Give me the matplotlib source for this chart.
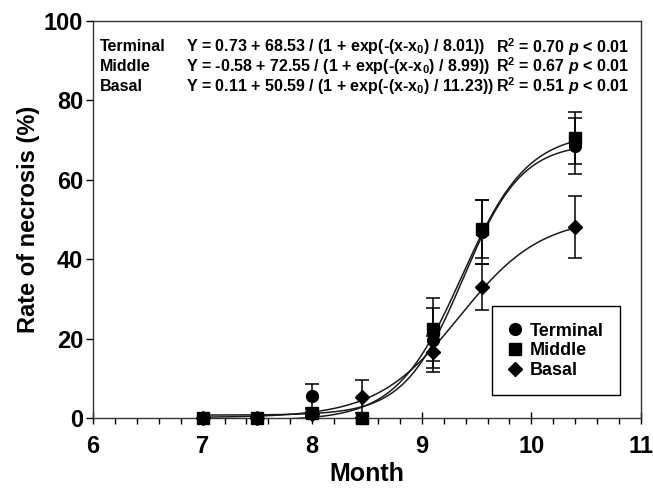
import numpy as np
import matplotlib
matplotlib.use("Agg")
import matplotlib.pyplot as plt
from matplotlib.ticker import MultipleLocator

plt.rcParams['font.family'] = ['Liberation Sans', 'DejaVu Sans']
plt.rcParams['font.weight'] = 'bold'
plt.rcParams['mathtext.fontset'] = 'custom'
plt.rcParams['mathtext.rm'] = 'Liberation Sans:bold'
plt.rcParams['mathtext.it'] = 'Liberation Sans:italic:bold'
plt.rcParams['mathtext.bf'] = 'Liberation Sans:bold'

# sampling months
months = [7.0, 7.5, 8.0, 8.45, 9.1, 9.55, 10.4]

# necrosis rate (%) and error per position
terminal = [0, 0, 5.5, 0, 19.6, 46.8, 68.5]
terminal_err = [0, 0, 3.0, 0, 8.0, 8.0, 7.0]
middle = [0, 0, 1.3, 0, 22.3, 47.6, 70.5]
middle_err = [0, 0, 1.0, 0, 8.0, 7.2, 6.5]
basal = [0, 0, 1.0, 5.4, 16.7, 33.0, 48.2]
basal_err = [0, 0, 0.5, 4.2, 4.0, 5.9, 7.8]

# logistic fits Y = a + b / (1 + exp(-(x-x0)/c)), c in days, x0 in months (estimated)
fit_a = [0.73, -0.58, 0.11]
fit_b = [68.53, 72.55, 50.59]
fit_c = [8.01, 8.99, 11.23]
fit_x0 = [9.375, 9.366, 9.34]

labels = ['Terminal', 'Middle', 'Basal']
markers = ['o', 's', 'D']
msizes = [8.5, 8, 7]
eq_texts = [
    r'Y = 0.73 + 68.53 / (1 + exp(-(x-x$_0$) / 8.01))',
    r'Y = -0.58 + 72.55 / (1 + exp(-(x-x$_0$) / 8.99))',
    r'Y = 0.11 + 50.59 / (1 + exp(-(x-x$_0$) / 11.23))',
]
r2_texts = [
    r'R$^2$ = 0.70 $\mathit{p}$ < 0.01',
    r'R$^2$ = 0.67 $\mathit{p}$ < 0.01',
    r'R$^2$ = 0.51 $\mathit{p}$ < 0.01',
]

fig = plt.figure(figsize=(6.53, 4.91), dpi=100)
ax = fig.add_axes([0.1424, 0.1487, 0.8392, 0.8086])

series = [(terminal, terminal_err), (middle, middle_err), (basal, basal_err)]
xs = np.linspace(months[0], months[-1], 300)
for i, (vals, errs) in enumerate(series):
    # fitted curve
    ys = fit_a[i] + fit_b[i] / (1 + np.exp(-(xs - fit_x0[i]) * 30 / fit_c[i]))
    ax.plot(xs, ys, color='#1a1a1a', lw=1.1, zorder=2)
    ax.errorbar(months, vals, yerr=errs, fmt='none', ecolor='black',
                elinewidth=1.1, capsize=5, capthick=1.1, zorder=3, clip_on=False)
    ax.plot(months, vals, linestyle='none', marker=markers[i], ms=msizes[i],
            color='black', label=labels[i], zorder=4, clip_on=False)

ax.set_xlim(6, 11)
ax.set_ylim(0, 100)
ax.xaxis.set_major_locator(MultipleLocator(1))
ax.xaxis.set_minor_locator(MultipleLocator(0.2))
ax.yaxis.set_major_locator(MultipleLocator(20))
ax.tick_params(axis='x', which='major', direction='inout', length=8, width=1, labelsize=17, pad=8)
ax.tick_params(axis='x', which='minor', direction='out', length=4, width=1)
ax.tick_params(axis='y', which='major', direction='out', length=5, width=1, labelsize=17, pad=2)
for sp in ax.spines.values():
    sp.set_linewidth(1)
    sp.set_color('#333333')

ax.set_xlabel('Month', fontsize=18, fontweight='bold', labelpad=3)
ax.set_ylabel('Rate of necrosis (%)', fontsize=17, fontweight='bold', labelpad=3)

row_y = [0.935, 0.885, 0.835]
for i in range(3):
    ax.text(0.012, row_y[i], labels[i], transform=ax.transAxes, fontsize=11.5,
            fontweight='bold', va='center', ha='left')
    ax.text(0.17, row_y[i], eq_texts[i], transform=ax.transAxes, fontsize=11.5,
            fontweight='bold', va='center', ha='left')
    ax.text(0.735, row_y[i], r2_texts[i], transform=ax.transAxes, fontsize=11.5,
            fontweight='bold', va='center', ha='left')

leg = ax.legend(loc='center', bbox_to_anchor=(0.845, 0.169), fontsize=13,
                frameon=True, fancybox=False, edgecolor='black', framealpha=1,
                handlelength=0.8, handletextpad=0.4, labelspacing=0.15,
                borderpad=0.9, borderaxespad=0)
leg.get_frame().set_linewidth(1)
for t in leg.get_texts():
    t.set_fontweight('bold')

fig.savefig('out.png', dpi=100)
